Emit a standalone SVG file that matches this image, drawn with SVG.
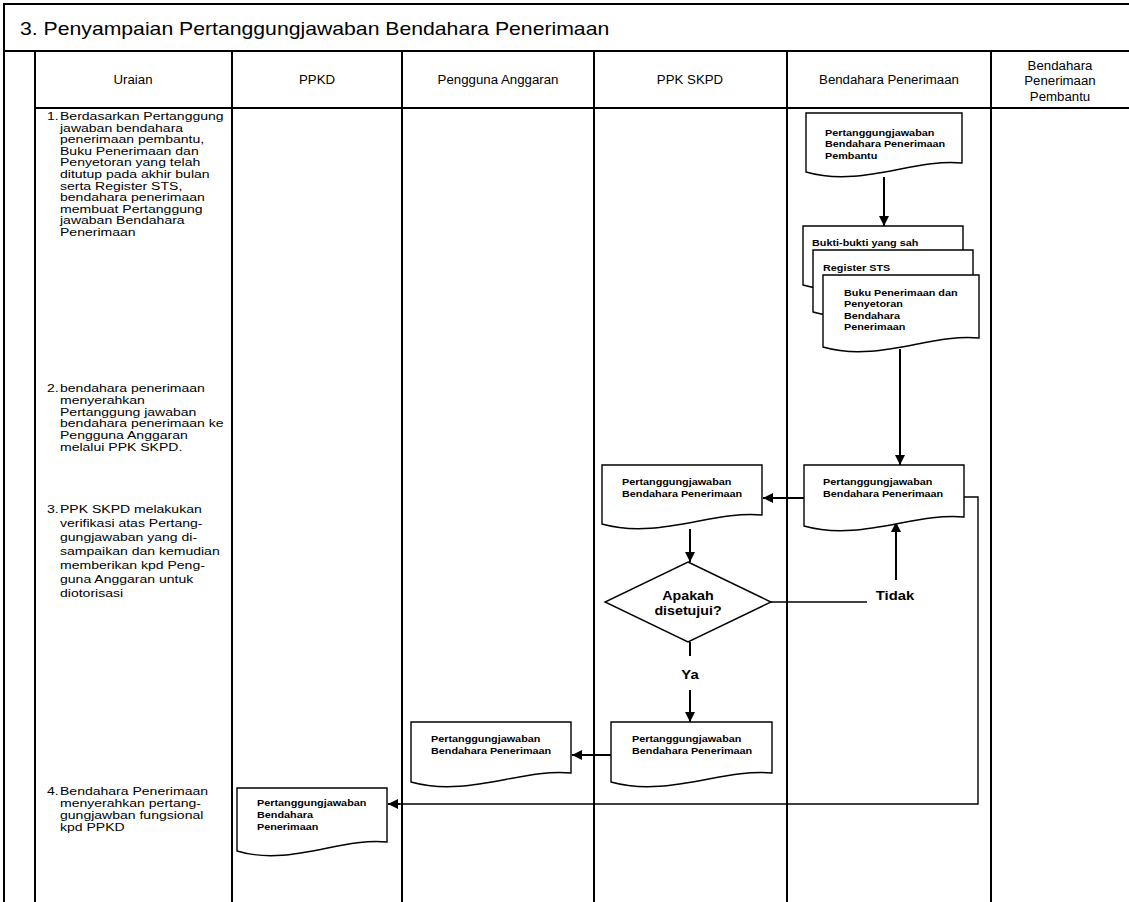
<svg xmlns="http://www.w3.org/2000/svg" width="1129" height="902" viewBox="0 0 1129 902">
<style>
text{font-family:"Liberation Sans",Arial,sans-serif;fill:#000}
.title{font-size:18.6px}
.hd{font-size:12.5px;text-anchor:middle}
.u{font-size:11.5px}
.dl{font-size:9.5px;font-weight:bold}
.lb{font-size:12.5px;font-weight:bold;text-anchor:middle}
.frame{stroke:#000;stroke-width:2;fill:none}
.doc{fill:#fff;stroke:#000;stroke-width:1.4}
.con{stroke:#000;stroke-width:2;fill:none}
.thin{stroke:#000;stroke-width:1.4;fill:none}
</style>
<defs>
<marker id="ah" viewBox="0 0 10 10" refX="10" refY="5" markerWidth="10" markerHeight="10" markerUnits="userSpaceOnUse" orient="auto">
<path d="M0,0 L10,5 L0,10 Z" fill="#000"/>
</marker>
</defs>
<rect width="1129" height="902" fill="#fff"/>
<g id="frame">
<path class="frame" d="M4,902 V4 H1129 M4,51 H1129 M35,51 V902 M35,108 H1129 M232,51 V902 M402,51 V902 M594,51 V902 M787,51 V902 M991,51 V902"/>
<text class="title" transform="translate(20 0) scale(1.14 1)" x="0" y="35">3. Penyampaian Pertanggungjawaban Bendahara Penerimaan</text>
</g>
<g id="headers">
<text class="hd" transform="translate(133 0) scale(1.06 1)" x="0" y="84">Uraian</text>
<text class="hd" transform="translate(317 0) scale(1.06 1)" x="0" y="84">PPKD</text>
<text class="hd" transform="translate(498 0) scale(1.06 1)" x="0" y="84">Pengguna Anggaran</text>
<text class="hd" transform="translate(690 0) scale(1.06 1)" x="0" y="84">PPK SKPD</text>
<text class="hd" transform="translate(889 0) scale(1.06 1)" x="0" y="84">Bendahara Penerimaan</text>
<text class="hd" transform="translate(1060 0) scale(1.06 1)"><tspan x="0" y="70">Bendahara</tspan><tspan x="0" y="85.5">Penerimaan</tspan><tspan x="0" y="101">Pembantu</tspan></text>
</g>
<g id="uraian">
<text class="u" transform="translate(47 0) scale(1.22 1)" x="0" y="120">1.</text>
<text class="u" transform="translate(60 0) scale(1.22 1)"><tspan x="0" y="120">Berdasarkan Pertanggung</tspan><tspan x="0" y="131.6">jawaban bendahara</tspan><tspan x="0" y="143.2">penerimaan pembantu,</tspan><tspan x="0" y="154.8">Buku Penerimaan dan</tspan><tspan x="0" y="166.4">Penyetoran yang telah</tspan><tspan x="0" y="178">ditutup pada akhir bulan</tspan><tspan x="0" y="189.6">serta Register STS,</tspan><tspan x="0" y="201.2">bendahara penerimaan</tspan><tspan x="0" y="212.8">membuat Pertanggung</tspan><tspan x="0" y="224.4">jawaban Bendahara</tspan><tspan x="0" y="236">Penerimaan</tspan></text>
<text class="u" transform="translate(47 0) scale(1.22 1)" x="0" y="392">2.</text>
<text class="u" transform="translate(60 0) scale(1.22 1)"><tspan x="0" y="392">bendahara penerimaan</tspan><tspan x="0" y="403.8">menyerahkan</tspan><tspan x="0" y="415.6">Pertanggung jawaban</tspan><tspan x="0" y="427.4">bendahara penerimaan ke</tspan><tspan x="0" y="439.2">Pengguna Anggaran</tspan><tspan x="0" y="451">melalui PPK SKPD.</tspan></text>
<text class="u" transform="translate(47 0) scale(1.22 1)" x="0" y="513">3.</text>
<text class="u" transform="translate(60 0) scale(1.22 1)"><tspan x="0" y="513">PPK SKPD melakukan</tspan><tspan x="0" y="527">verifikasi atas Pertang-</tspan><tspan x="0" y="541">gungjawaban yang di-</tspan><tspan x="0" y="555">sampaikan dan kemudian</tspan><tspan x="0" y="569">memberikan kpd Peng-</tspan><tspan x="0" y="583">guna Anggaran untuk</tspan><tspan x="0" y="597">diotorisasi</tspan></text>
<text class="u" transform="translate(47 0) scale(1.22 1)" x="0" y="795">4.</text>
<text class="u" transform="translate(60 0) scale(1.22 1)"><tspan x="0" y="795">Bendahara Penerimaan</tspan><tspan x="0" y="807">menyerahkan pertang-</tspan><tspan x="0" y="819">gungjawban fungsional</tspan><tspan x="0" y="831">kpd PPKD</tspan></text>
</g>
<g id="connectors">
<line class="con" x1="884" y1="177" x2="884" y2="226" marker-end="url(#ah)"/>
<line class="con" x1="900" y1="349" x2="900" y2="465" marker-end="url(#ah)"/>
<line class="con" x1="804" y1="498" x2="763" y2="498" marker-end="url(#ah)"/>
<polyline class="thin" points="964,497 978,497 978,804 395,804"/>
<line class="con" x1="400" y1="804" x2="388" y2="804" marker-end="url(#ah)"/>
<line class="con" x1="690" y1="529" x2="690" y2="562" marker-end="url(#ah)"/>
<line class="thin" x1="771" y1="602" x2="867" y2="602"/>
<line class="con" x1="896" y1="580" x2="896" y2="522" marker-end="url(#ah)"/>
<line class="con" x1="690" y1="642" x2="690" y2="656"/>
<line class="con" x1="690" y1="690" x2="690" y2="722" marker-end="url(#ah)"/>
<line class="con" x1="611" y1="755" x2="572" y2="755" marker-end="url(#ah)"/>
</g>
<g id="doc-pembantu">
<path class="doc" d="M806,113 H962 V163 C915,158 861,188 806,172 Z"/>
<text class="dl" transform="translate(825 0) scale(1.14 1)"><tspan x="0" y="136">Pertanggungjawaban</tspan><tspan x="0" y="147.5">Bendahara Penerimaan</tspan><tspan x="0" y="159">Pembantu</tspan></text>
</g>
<g id="doc-bukti">
<path class="doc" d="M803,226 H963 V276 C915,271 859,301 803,285 Z"/>
<text class="dl" transform="translate(812 0) scale(1.14 1)" x="0" y="246">Bukti-bukti yang sah</text>
</g>
<g id="doc-register">
<path class="doc" d="M813,250 H973 V303 C925,298 869,328 813,312 Z"/>
<text class="dl" transform="translate(823 0) scale(1.14 1)" x="0" y="271">Register STS</text>
</g>
<g id="doc-buku">
<path class="doc" d="M823,275 H979 V338 C932,333 878,363 823,347 Z"/>
<text class="dl" transform="translate(844 0) scale(1.14 1)"><tspan x="0" y="296">Buku Penerimaan dan</tspan><tspan x="0" y="307.5">Penyetoran</tspan><tspan x="0" y="319">Bendahara</tspan><tspan x="0" y="330.5">Penerimaan</tspan></text>
</g>
<g id="doc-bendahara">
<path class="doc" d="M804,465 H964 V517 C916,512 860,542 804,526 Z"/>
<text class="dl" transform="translate(823 0) scale(1.14 1)"><tspan x="0" y="485">Pertanggungjawaban</tspan><tspan x="0" y="497">Bendahara Penerimaan</tspan></text>
</g>
<g id="doc-ppk1">
<path class="doc" d="M602,465 H762 V515 C714,510 658,540 602,524 Z"/>
<text class="dl" transform="translate(622 0) scale(1.14 1)"><tspan x="0" y="485">Pertanggungjawaban</tspan><tspan x="0" y="497">Bendahara Penerimaan</tspan></text>
</g>
<g id="decision">
<path class="doc" d="M688,562 L771,602 L688,642 L605,602 Z"/>
<text class="lb" transform="translate(688 0) scale(1.14 1)"><tspan x="0" y="600">Apakah</tspan><tspan x="0" y="615">disetujui?</tspan></text>
</g>
<g id="label-tidak">
<text class="lb" transform="translate(895 0) scale(1.14 1)" x="0" y="600" style="font-size:13px">Tidak</text>
</g>
<g id="label-ya">
<text class="lb" transform="translate(690 0) scale(1.14 1)" x="0" y="679" style="font-size:13px">Ya</text>
</g>
<g id="doc-ppk2">
<path class="doc" d="M611,722 H772 V773 C724,768 667,798 611,782 Z"/>
<text class="dl" transform="translate(632 0) scale(1.14 1)"><tspan x="0" y="742">Pertanggungjawaban</tspan><tspan x="0" y="754">Bendahara Penerimaan</tspan></text>
</g>
<g id="doc-pa">
<path class="doc" d="M411,722 H571 V773 C523,768 467,798 411,782 Z"/>
<text class="dl" transform="translate(431 0) scale(1.14 1)"><tspan x="0" y="742">Pertanggungjawaban</tspan><tspan x="0" y="754">Bendahara Penerimaan</tspan></text>
</g>
<g id="doc-ppkd">
<path class="doc" d="M237,788 H387 V842 C342,837 289,867 237,851 Z"/>
<text class="dl" transform="translate(257 0) scale(1.14 1)"><tspan x="0" y="806">Pertanggungjawaban</tspan><tspan x="0" y="818">Bendahara</tspan><tspan x="0" y="830">Penerimaan</tspan></text>
</g>
</svg>
